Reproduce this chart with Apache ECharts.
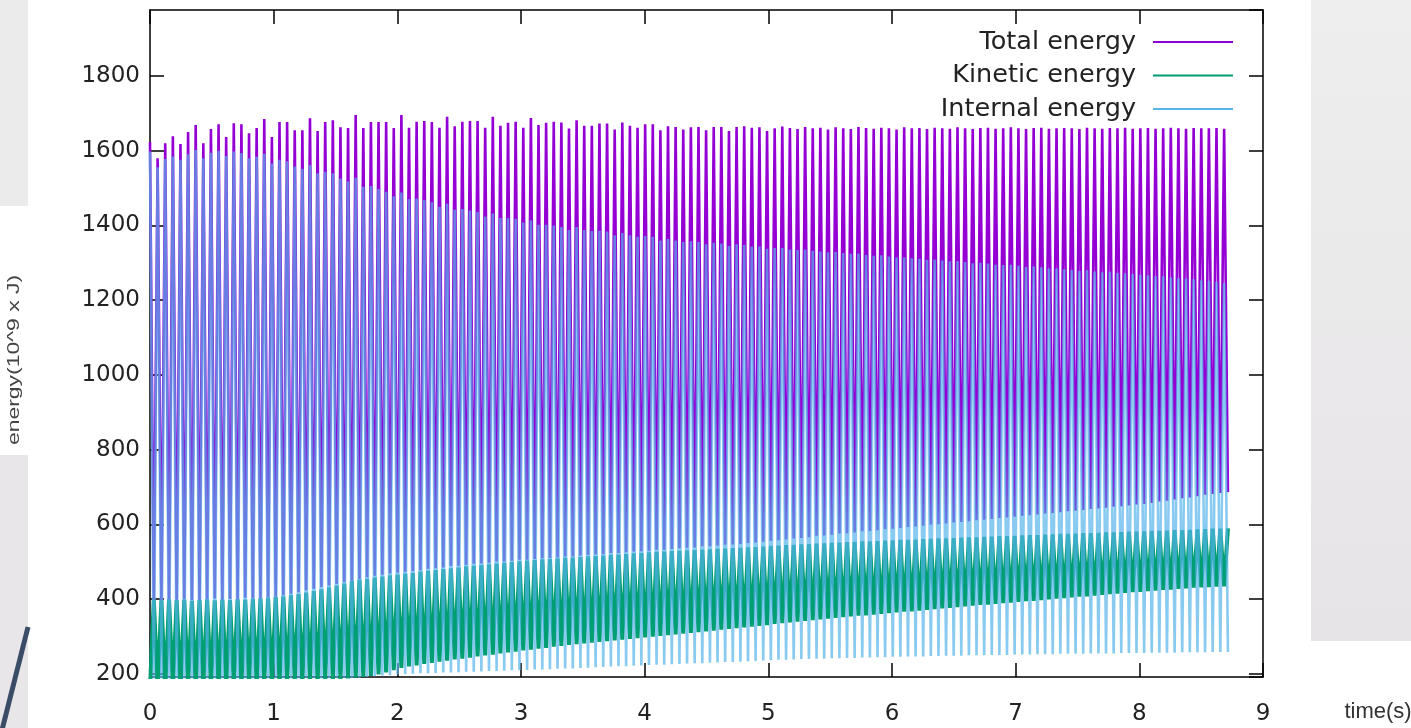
<!DOCTYPE html>
<html>
<head>
<meta charset="utf-8">
<title>energy</title>
<script src="https://cdn.jsdelivr.net/npm/echarts@6/dist/echarts.min.js"></script>
<style>
  html, body { margin: 0; padding: 0; background: #fff; }
  #chart { width: 1411px; height: 728px; }
</style>
</head>
<body>
<div id="chart"></div>
<script>
// one oscillation cycle, in seconds (about 16 per second)
const cyclePeriod = 0.0616;

const seriesNames = ['Total energy', 'Kinetic energy', 'Internal energy'];
const xTicks = [0, 1, 2, 3, 4, 5, 6, 7, 8, 9];

// peak / trough of every cycle
const totalPeak = [
  1623,1580,1620,1639,1618,1650,1669,1620,1658,1671,
  1637,1674,1671,1647,1661,1685,1637,1677,1677,1655,
  1655,1687,1653,1677,1682,1663,1661,1696,1661,1677,
  1677,1677,1661,1696,1662,1678,1680,1677,1662,1691,
  1666,1678,1680,1680,1662,1691,1667,1675,1678,1662,
  1688,1669,1675,1678,1676,1660,1682,1667,1667,1673,
  1673,1657,1676,1667,1662,1671,1671,1655,1666,1664,
  1657,1663,1664,1655,1664,1664,1653,1664,1666,1662,
  1663,1653,1660,1665,1661,1658,1664,1660,1662,1657,
  1663,1660,1658,1664,1661,1659,1662,1660,1657,1663,
  1660,1661,1658,1662,1660,1659,1663,1660,1658,1661,
  1662,1659,1660,1663,1660,1658,1661,1662,1659,1660,
  1661,1660,1658,1662,1660,1659,1661,1660,1662,1659,
  1660,1661,1659,1660,1662,1660,1659,1661,1660,1660,
  1661,1659
];
const totalTrough = [
  396,392,398,395,400,397,394,399,401,396,
  400,398,403,401,399,404,406,410,414,418,
  423,427,432,436,440,445,449,453,458,462,
  465,468,470,473,475,477,481,482,484,488,
  489,491,494,495,497,500,500,502,505,505,
  507,509,510,511,514,514,516,518,519,520,
  523,523,525,527,528,529,532,532,534,536,
  537,538,541,541,543,545,546,547,550,551,
  553,556,557,559,562,563,565,569,570,572,
  575,576,578,581,582,584,587,588,590,593,
  594,596,599,600,602,605,606,608,611,612,
  614,617,618,620,623,624,626,629,630,632,
  635,636,638,641,642,644,647,648,650,653,
  654,657,661,663,666,670,672,675,679,681,
  684,686
];
const kineticPeak = [
  398,396,399,397,398,395,397,399,396,398,
  397,399,398,400,401,403,405,407,410,413,
  417,421,426,431,436,441,448,451,454,457,
  460,463,465,468,470,473,475,477,480,482,
  484,487,489,491,493,495,497,499,501,503,
  504,506,507,508,510,511,512,514,515,516,
  518,519,520,522,523,525,526,527,528,529,
  530,531,532,533,534,535,536,537,538,539,
  540,542,543,544,545,546,547,548,549,550,
  551,552,553,554,554,555,556,557,558,558,
  559,560,561,562,562,563,564,565,565,566,
  567,568,568,569,570,571,571,572,573,574,
  574,575,576,576,577,578,578,579,580,580,
  581,582,582,583,584,584,585,586,587,588,
  588,589
];
const kineticTrough = [
  160,163,158,165,162,166,164,168,167,170,
  169,172,171,174,173,176,175,178,177,180,
  179,182,181,184,184,186,187,189,191,194,
  198,203,209,215,219,222,226,229,232,235,
  238,240,243,246,249,251,254,257,259,262,
  264,267,269,272,274,277,279,281,283,285,
  287,289,291,293,295,297,299,301,303,305,
  307,309,311,313,315,318,320,322,324,326,
  328,330,333,335,337,339,341,343,345,347,
  349,351,353,355,356,358,360,362,364,366,
  367,369,371,373,375,376,378,380,382,384,
  385,387,389,390,392,394,395,397,399,401,
  402,404,406,407,409,411,413,414,416,418,
  419,421,422,424,425,427,428,430,431,432,
  433,434
];
const internalPeak = [
  1598,1556,1578,1585,1576,1591,1602,1580,1595,1600,
  1586,1598,1594,1580,1584,1592,1566,1576,1572,1558,
  1552,1562,1540,1544,1540,1526,1518,1528,1504,1506,
  1498,1490,1478,1488,1470,1472,1468,1462,1450,1458,
  1442,1444,1440,1436,1424,1432,1420,1420,1418,1408,
  1414,1402,1402,1400,1396,1388,1396,1388,1385,1386,
  1384,1374,1380,1374,1370,1372,1370,1360,1364,1360,
  1356,1358,1356,1350,1354,1352,1345,1350,1348,1344,
  1344,1338,1340,1340,1336,1334,1336,1332,1330,1328,
  1329,1326,1324,1325,1321,1319,1320,1317,1314,1315,
  1312,1311,1308,1309,1306,1304,1305,1302,1299,1300,
  1298,1295,1294,1295,1292,1289,1290,1288,1285,1285,
  1283,1281,1278,1280,1277,1275,1276,1273,1272,1270,
  1268,1267,1264,1264,1261,1259,1258,1256,1253,1252,
  1249,1246
];
const internalTrough = [
  172,168,175,170,176,173,178,174,171,177,
  175,179,176,180,178,182,179,183,181,184,
  182,185,184,187,185,188,187,189,191,193,
  195,196,198,199,200,201,201,202,203,203,
  204,205,205,206,207,207,208,209,209,210,
  211,211,212,213,214,214,215,216,217,218,
  219,220,220,221,222,223,224,224,225,226,
  227,228,228,229,230,231,231,232,233,234,
  235,236,237,237,238,239,239,240,240,241,
  241,242,242,243,243,244,244,245,245,246,
  246,246,247,247,248,248,248,249,249,249,
  250,250,250,251,251,251,252,252,252,253,
  253,253,253,254,254,254,254,255,255,255,
  255,256,256,256,256,257,257,257,257,258,
  258,258
];

// first value at the start of a cycle, second one half a cycle later
function zigzag(first, second) {
  let data = []
  for (let i = 0; i < first.length; i++) {
    data.push([i * cyclePeriod, first[i]])
    data.push([(i + 0.5) * cyclePeriod, second[i]])
  }
  return data
}

const font = 'DejaVu Sans'
const axisCommon = {
  type: 'value',
  axisLine: { show: true, onZero: false, lineStyle: { color: '#000', width: 1.5 } },
  axisTick: { show: true, inside: true, length: 14, lineStyle: { color: '#000', width: 1.5 } },
  splitLine: { show: false }
}

let dom = document.getElementById('chart')
let chart = echarts.init(dom, null, { renderer: 'canvas' })

chart.setOption({
  animation: false,
  backgroundColor: '#fff',
  grid: { left: 150, right: 148, top: 10, bottom: 51 },
  color: ['#9400d3', '#009e73', '#56b4e9'],
  legend: {
    orient: 'vertical',
    right: 173,
    top: 24,
    align: 'right',
    icon: 'rect',
    itemWidth: 80,
    itemHeight: 2,
    itemGap: 7.5,
    selectedMode: false,
    textStyle: { fontFamily: font, fontSize: 25.5, color: '#222', padding: [0, 12, 0, 0] },
    data: seriesNames
  },
  xAxis: [
    Object.assign({}, axisCommon, {
      position: 'bottom', min: xTicks[0], max: xTicks[xTicks.length - 1], interval: 1,
      axisLabel: { fontFamily: font, fontSize: 23, color: '#222', margin: 26 }
    }),
    Object.assign({}, axisCommon, {
      position: 'top', min: xTicks[0], max: xTicks[xTicks.length - 1], interval: 1,
      axisLabel: { show: false }
    })
  ],
  yAxis: [
    Object.assign({}, axisCommon, {
      position: 'left', min: 191, max: 1977, splitNumber: 9,
      axisLabel: { fontFamily: font, fontSize: 23, color: '#222', margin: 10,
                   showMinLabel: false, showMaxLabel: false,
                   formatter: v => String(v) }
    }),
    Object.assign({}, axisCommon, {
      position: 'right', min: 191, max: 1977, splitNumber: 9,
      axisLabel: { show: false }
    })
  ],
  series: [
    { name: seriesNames[0], type: 'line', symbol: 'none', sampling: null,
      lineStyle: { width: 2.6 }, data: zigzag(totalPeak, totalTrough) },
    { name: seriesNames[1], type: 'line', symbol: 'none', sampling: null,
      lineStyle: { width: 4 }, data: zigzag(kineticTrough, kineticPeak) },
    { name: seriesNames[2], type: 'line', symbol: 'none', sampling: null,
      lineStyle: { width: 2.6, opacity: 0.7 }, data: zigzag(internalPeak, internalTrough) }
  ],
  // bits of the slide around the plot
  graphic: [
    { type: 'rect', left: 0, top: 0, shape: { width: 28, height: 206 }, style: { fill: '#ebebeb' }, silent: true },
    { type: 'rect', left: 0, top: 455, shape: { width: 28, height: 273 }, style: { fill: '#e9e6e9' }, silent: true },
    { type: 'line', shape: { x1: 2, y1: 730, x2: 28, y2: 627 }, style: { stroke: '#3b4d66', lineWidth: 5 }, silent: true },
    { type: 'rect', left: 1311, top: 0, shape: { width: 100, height: 641 },
      style: { fill: new echarts.graphic.LinearGradient(0, 0, 0, 1, [
        { offset: 0, color: '#eeeeee' }, { offset: 1, color: '#e7e4e7' }]) }, silent: true },
    { type: 'text', x: 14, y: 360, rotation: Math.PI / 2, scaleX: 1.35,
      style: { text: 'energy(10^9 x J)', fontFamily: 'Liberation Sans', fontSize: 17,
               fill: '#444', align: 'center', verticalAlign: 'middle' }, silent: true },
    { type: 'text', x: 1378, y: 712,
      style: { text: 'time(s)', fontFamily: 'Liberation Sans', fontSize: 22,
               fill: '#333', align: 'center', verticalAlign: 'middle' }, silent: true }
  ]
})
</script>
</body>
</html>
